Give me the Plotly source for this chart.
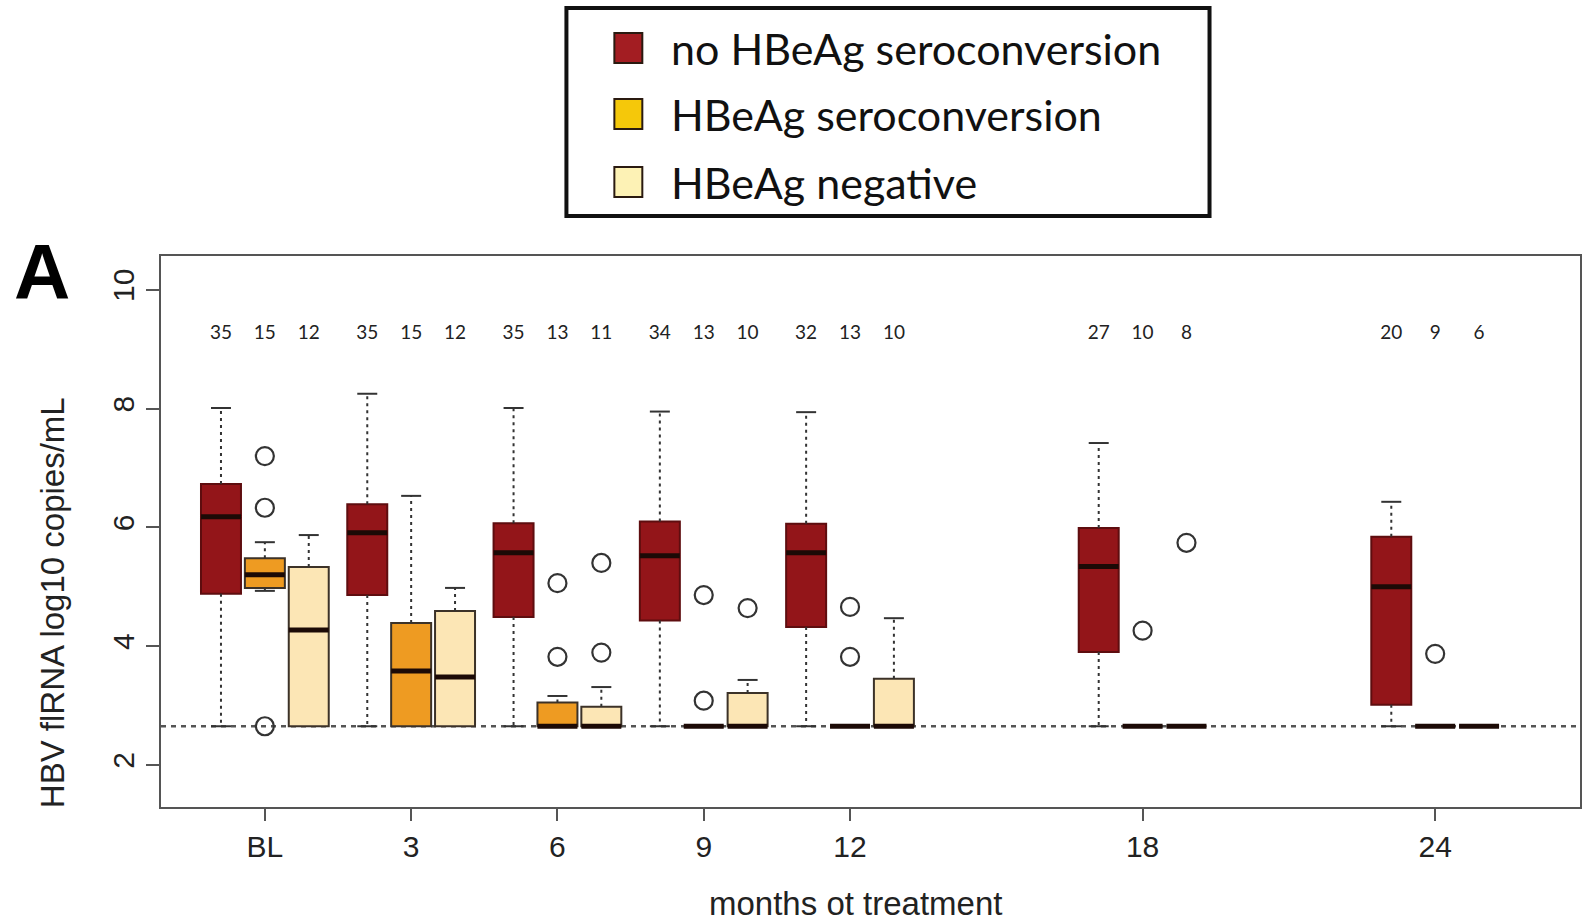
import plotly.graph_objects as go

# ---- data -------------------------------------------------------------
months = [0, 3, 6, 9, 12, 18, 24]
month_labels = ["BL", "3", "6", "9", "12", "18", "24"]
series_names = ["no HBeAg seroconversion", "HBeAg seroconversion", "HBeAg negative"]
lloq = 2.65

# no HBeAg seroconversion
red_n = [35, 35, 35, 34, 32, 27, 20]
red_lo = [2.65, 2.65, 2.65, 2.65, 2.65, 2.65, 2.65]
red_q1 = [4.88, 4.86, 4.49, 4.43, 4.32, 3.90, 3.01]
red_med = [6.18, 5.91, 5.57, 5.52, 5.57, 5.34, 5.00]
red_q3 = [6.73, 6.39, 6.07, 6.10, 6.06, 5.99, 5.84]
red_hi = [8.01, 8.25, 8.01, 7.95, 7.94, 7.42, 6.43]
red_out = [[], [], [], [], [], [], []]

# HBeAg seroconversion
org_n = [15, 15, 13, 13, 13, 10, 9]
org_lo = [4.93, 2.65, 2.65, 2.65, 2.65, 2.65, 2.65]
org_q1 = [4.98, 2.65, 2.65, 2.65, 2.65, 2.65, 2.65]
org_med = [5.20, 3.58, 2.65, 2.65, 2.65, 2.65, 2.65]
org_q3 = [5.48, 4.39, 3.05, 2.65, 2.65, 2.65, 2.65]
org_hi = [5.75, 6.53, 3.16, 2.65, 2.65, 2.65, 2.65]
org_out = [[7.20, 6.33, 2.65], [], [5.06, 3.82], [4.86, 3.08], [4.66, 3.82], [4.26], [3.87]]

# HBeAg negative
neg_n = [12, 12, 11, 10, 10, 8, 6]
neg_lo = [2.65, 2.65, 2.65, 2.65, 2.65, 2.65, 2.65]
neg_q1 = [2.65, 2.65, 2.65, 2.65, 2.65, 2.65, 2.65]
neg_med = [4.27, 3.48, 2.65, 2.65, 2.65, 2.65, 2.65]
neg_q3 = [5.33, 4.59, 2.98, 3.21, 3.45, 2.65, 2.65]
neg_hi = [5.87, 4.98, 3.31, 3.43, 4.47, 2.65, 2.65]
neg_out = [[], [], [5.40, 3.89], [4.64], [], [5.74], []]

# ---- styling ----------------------------------------------------------
offsets = [-0.9, 0.0, 0.9]
box_w = 0.82
cap_half = box_w / 4
fills = ["#931519", "#EE9B22", "#FCE6B5"]
edges = ["#5e0d0f", "#3c3228", "#3c3228"]
legend_fills = ["#a31d22", "#f5c80a", "#fdf2b5"]
median_col = "#1c0a06"
whisker_col = "#333333"
axis_col = "#555555"
sans = "Liberation Sans, Arial, sans-serif"
tick_font = dict(family=sans, size=30, color="#222222")
title_font = dict(family=sans, size=33, color="#222222")
count_font = dict(family="Lato, sans-serif", size=19, color="#222222")
legend_font = dict(family="Lato, sans-serif", size=43, color="#111111")

groups = [
    (red_n, red_lo, red_q1, red_med, red_q3, red_hi, red_out),
    (org_n, org_lo, org_q1, org_med, org_q3, org_hi, org_out),
    (neg_n, neg_lo, neg_q1, neg_med, neg_q3, neg_hi, neg_out),
]

fig = go.Figure()

for gi, (n, lo, q1, med, q3, hi, out) in enumerate(groups):
    pos = [m + offsets[gi] for m in months]

    # dotted whiskers with solid staples
    wx, wy, cx, cy = [], [], [], []
    for p, a, b, c, d in zip(pos, lo, q1, q3, hi):
        if d > c:
            wx += [p, p, None]; wy += [c, d, None]
            cx += [p - cap_half, p + cap_half, None]; cy += [d, d, None]
        if a < b:
            wx += [p, p, None]; wy += [b, a, None]
            cx += [p - cap_half, p + cap_half, None]; cy += [a, a, None]
    fig.add_trace(go.Scatter(x=wx, y=wy, mode="lines", hoverinfo="skip",
                             line=dict(color=whisker_col, width=2, dash="3px,4px")))
    fig.add_trace(go.Scatter(x=cx, y=cy, mode="lines", hoverinfo="skip",
                             line=dict(color=whisker_col, width=2)))

    # boxes
    fig.add_trace(go.Box(
        name=series_names[gi], x=pos, q1=q1, median=med, q3=q3,
        lowerfence=q1, upperfence=q3, width=box_w, boxpoints=False,
        fillcolor=fills[gi], line=dict(color=edges[gi], width=2),
        whiskerwidth=0,
    ))

    # thick medians
    mx, my = [], []
    for p, m in zip(pos, med):
        mx += [p - box_w / 2, p + box_w / 2, None]; my += [m, m, None]
    fig.add_trace(go.Scatter(x=mx, y=my, mode="lines", hoverinfo="skip",
                             line=dict(color=median_col, width=5)))

    # outliers
    ox, oy = [], []
    for p, vals in zip(pos, out):
        for v in vals:
            ox.append(p); oy.append(v)
    fig.add_trace(go.Scatter(x=ox, y=oy, mode="markers",
                             marker=dict(symbol="circle-open", size=18,
                                         line=dict(color="#333333", width=2.2),
                                         color="#333333")))

    # group sizes
    fig.add_trace(go.Scatter(x=pos, y=[9.25] * len(pos), mode="text",
                             text=[str(v) for v in n], textfont=count_font,
                             hoverinfo="skip"))

# lower limit of quantification
fig.add_shape(type="line", xref="paper", x0=0, x1=1, yref="y", y0=lloq, y1=lloq,
              line=dict(color="#555555", width=2.4, dash="5px,5px"), layer="below")

# ---- positioning helpers (pixel -> paper) ------------------------------
L, R, T, B = 161, 1582, 256, 807
pw, ph = R - L, B - T


def px(x):
    return (x - L) / pw


def py(y):
    return (B - y) / ph


# legend box above the plot area
fig.add_shape(type="rect", xref="paper", yref="paper",
              x0=px(567), x1=px(1211), y0=py(216), y1=py(8),
              line=dict(color="#111111", width=4), fillcolor="white")
row_y = [48, 114, 182]
for i, name in enumerate(series_names):
    fig.add_shape(type="rect", xref="paper", yref="paper",
                  x0=px(615), x1=px(643), y0=py(row_y[i] + 15), y1=py(row_y[i] - 15),
                  line=dict(color="#2a1a10", width=2), fillcolor=legend_fills[i])
    fig.add_annotation(xref="paper", yref="paper", x=px(670), y=py(row_y[i]),
                       text=name, showarrow=False, xanchor="left", yanchor="middle",
                       font=legend_font)

# axis titles
fig.add_annotation(xref="paper", yref="paper", x=px(856), y=py(903),
                   text="months ot treatment", showarrow=False,
                   xanchor="center", yanchor="middle", font=title_font)
fig.add_annotation(xref="paper", yref="paper", x=px(52), y=py(603),
                   text="HBV flRNA log10 copies/mL", showarrow=False, textangle=-90,
                   xanchor="center", yanchor="middle", font=title_font)

# panel letter
fig.add_annotation(xref="paper", yref="paper", x=px(42), y=py(272), text="<b>A</b>",
                   showarrow=False, xanchor="center", yanchor="middle",
                   font=dict(family=sans, size=78, color="#000000"))

fig.update_layout(
    width=1585, height=921,
    margin=dict(l=L, r=1585 - R, t=T, b=921 - B, pad=0),
    paper_bgcolor="white", plot_bgcolor="white",
    showlegend=False, boxmode="overlay",
    xaxis=dict(
        range=[-2.13, 26.97], tickvals=months, ticktext=month_labels,
        ticks="outside", ticklen=12, tickwidth=1.5, tickcolor=axis_col,
        tickfont=tick_font, showgrid=False, zeroline=False,
        showline=True, mirror=True, linecolor=axis_col, linewidth=2,
    ),
    yaxis=dict(
        range=[1.29, 10.57], tickvals=[2, 4, 6, 8, 10], tickangle=-90,
        ticks="outside", ticklen=13, tickwidth=1.5, tickcolor=axis_col,
        tickfont=tick_font, showgrid=False, zeroline=False,
        showline=True, mirror=True, linecolor=axis_col, linewidth=2,
    ),
)

fig.write_html("out.html")
